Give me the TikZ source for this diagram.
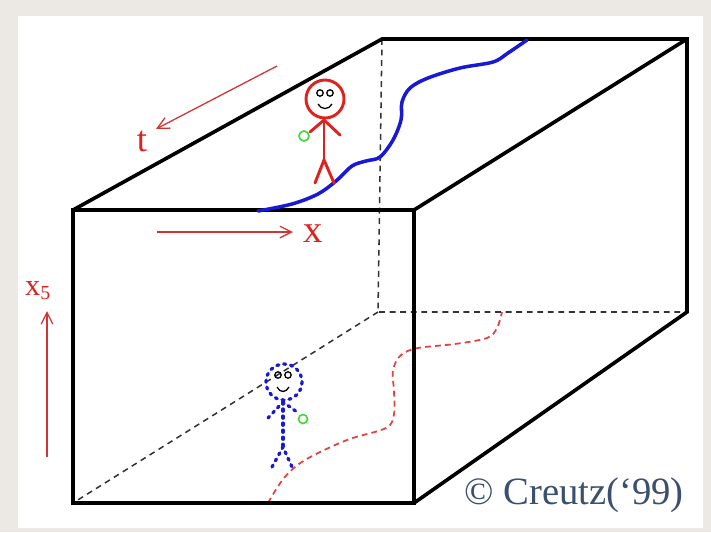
\documentclass[tikz,border=0pt]{standalone}
\usepackage{fontspec}
\setmainfont{Liberation Serif}
\usetikzlibrary{arrows.meta}
\definecolor{stone}{RGB}{236,233,228}
\definecolor{lblred}{RGB}{222,34,30}
\definecolor{arrred}{RGB}{210,52,52}
\definecolor{walker}{RGB}{24,24,214}
\definecolor{ball}{RGB}{72,214,62}
\definecolor{credit}{RGB}{58,80,110}

\begin{document}
\begin{tikzpicture}[x=0.03cm,y=-0.03cm,
  front/.style={line width=3.8pt,line join=miter},
  back/.style={line width=3.1pt,line join=miter},
  hidden/.style={line width=1.3pt,dash pattern=on 5pt off 4pt,black!80},
  dir/.style={arrred,line width=1.1pt,-{Straight Barb[length=10pt,width=10pt]}},
  lbl/.style={lblred,inner sep=0pt},
  figline/.style={line width=2.5pt,line cap=round,lblred},
  dotline/.style={line width=2.8pt,line cap=round,walker,dash pattern=on 1.8pt off 4.2pt},
  eye/.style={line width=1.1pt,black}]
\useasboundingbox (0,0) rectangle (711,532);
\fill[stone] (0,0) rectangle (711,532);
\fill[white] (18,16) rectangle (703,528);

% box corners
\coordinate (F1) at (73,210);
\coordinate (F2) at (414,210);
\coordinate (F3) at (414,503);
\coordinate (F4) at (73,503);
\coordinate (B1) at (382,39);
\coordinate (B2) at (687,39);
\coordinate (B3) at (687,312);
\coordinate (B4) at (378,312);

% hidden edges
\draw[hidden] (B1) -- (B4) -- (B3);
\draw[hidden] (B4) -- (F4);

% path in the bulk
\draw[lblred!85,line width=1.5pt,dash pattern=on 5pt off 3.5pt]
  plot[smooth,tension=0.55] coordinates {(268,503) (284,478) (305,460) (347,440) (386,428) (394,414) (394,392) (393,370) (401,355) (418,348) (455,344) (487,338) (497,328) (502,312)};

% mirror walker on the far wall
\draw[dotline] (284,382) circle (18);
\draw[eye] (278,375) circle (3.2) (288,375) circle (3.2);
\draw[eye] (277,387) .. controls (280,393) and (286,393) .. (289,387);
\draw[dotline] (283,402) -- (283,447);
\draw[dotline] (268,418) -- (283,402) -- (297,412);
\draw[dotline] (272,467) -- (283,447) -- (292,467);
\draw[ball,line width=1.4pt] (303,419) circle (4.5);

% box
\draw[back] (F1) -- (B1) -- (B2) -- (B3) -- (F3);
\draw[back] (F2) -- (B2);
\draw[front] (F1) -- (F2) -- (F3) -- (F4) -- cycle;

% path on the top face
\draw[walker,line width=3pt,line cap=round]
  plot[smooth,tension=0.55] coordinates {(258,211) (292,204) (318,194) (336,181) (352,166) (366,161) (380,157) (393,140) (401,120) (402,102) (410,88) (428,78) (460,68) (493,62) (508,53) (527,40)};

% walker on the top face
\draw[figline] (325,99) circle (19);
\draw[eye] (320,93) circle (3.2) (330,93) circle (3.2);
\draw[eye] (318,104) .. controls (321,110) and (329,110) .. (332,104);
\draw[figline] (324,118) -- (324,160);
\draw[figline] (310,132) -- (324,120) -- (340,135);
\draw[figline] (315,183) -- (324,160) -- (334,183);
\draw[ball,line width=1.4pt] (304,136) circle (5);

% directions
\draw[dir] (277,66) -- (156,129);
\node[lbl,font=\fontsize{31}{31}\selectfont] (t) at (142,141) {t};
\draw[dir] (157,232) -- (293,232);
\node[lbl,font=\fontsize{33}{33}\selectfont] (x) at (313,234) {x};
\draw[dir] (47,457) -- (47,311);
\node[lbl,font=\fontsize{26}{26}\selectfont,anchor=base west] (x5) at (25,295) {x\raisebox{-0.3ex}{\fontsize{17}{17}\selectfont 5}};

\node[credit,inner sep=0pt,anchor=base east,font=\fontsize{33}{33}\selectfont] (credit) at (684,504) {\textcopyright{} Creutz(‘99)};
\end{tikzpicture}
\end{document}
